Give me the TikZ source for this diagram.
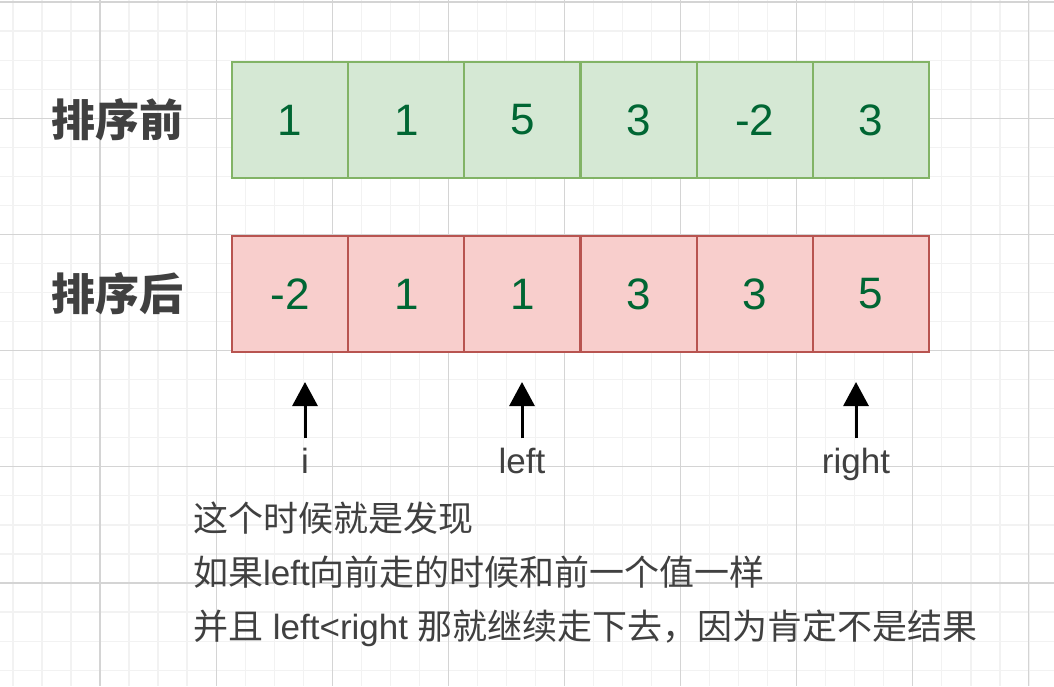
\documentclass[tikz,border=0pt]{standalone}
\usepackage{fontspec}
\setmainfont{Liberation Sans}
\newfontfamily\cjk{Noto Sans CJK SC}
\usepackage{xcolor}
\usetikzlibrary{arrows.meta}

\definecolor{gridminor}{HTML}{F2F2F2}
\definecolor{gridmajor}{HTML}{D4D4D4}
\definecolor{greenfill}{HTML}{D5E8D4}
\definecolor{greenline}{HTML}{82B366}
\definecolor{redfill}{HTML}{F8CECC}
\definecolor{redline}{HTML}{B85450}
\definecolor{numcolor}{HTML}{006633}
\definecolor{textgray}{HTML}{404040}

\begin{document}
\begin{tikzpicture}[
    x=1pt, y=-1pt,
    minorgrid/.style={draw=gridminor, line width=1.2pt},
    majorgrid/.style={draw=gridmajor, line width=1.2pt},
    cell/.style={rectangle, draw, line width=2.2pt, minimum width=116.2pt, minimum height=116pt, inner sep=0pt, text=numcolor, font=\fontsize{44}{50}\selectfont},
    before/.style={cell, fill=greenfill, draw=greenline},
    after/.style={cell, fill=redfill, draw=redline},
    rowlabel/.style={font=\cjk\bfseries\fontsize{44}{50}\selectfont, text=textgray},
    pointer/.style={font=\fontsize{35}{40}\selectfont, text=textgray, inner sep=0pt, anchor=base},
    note/.style={font=\fontsize{35}{40}\selectfont, text=textgray, anchor=west, inner sep=0pt},
    arrow/.style={-{Triangle[width=25pt,length=24pt]}, line width=3pt, shorten <=9pt},
]
\useasboundingbox (0,0) rectangle (1054,686);
\fill[white] (0,0) rectangle (1054,686);

% Background grid
\foreach \gx in {0,...,35} \draw[minorgrid] ({12.9+29.03*\gx},0) -- ++(0,686);
\foreach \gy in {0,...,23} \draw[minorgrid] (0,{2+29.05*\gy}) -- ++(1054,0);
\foreach \gx in {0,...,8} \draw[majorgrid] ({100+116.1*\gx},0) -- ++(0,686);
\foreach \gy in {0,...,5} \draw[majorgrid] (0,{2+116.2*\gy}) -- ++(1054,0);

% Row labels
\node[rowlabel] (lbefore) at (117, 120) {排序前};
\node[rowlabel] (lafter) at (117, 294) {排序后};

% Before sorting
\node[before] (b1) at (290.1, 120) {1};
\node[before] (b2) at (406.3, 120) {1};
\node[before] (b3) at (522.4, 120) {5};
\node[before] (b4) at (638.6, 120) {3};
\node[before] (b5) at (754.8, 120) {-2};
\node[before] (b6) at (870.9, 120) {3};

% After sorting
\node[after] (a1) at (290.1, 294) {-2};
\node[after] (a2) at (406.3, 294) {1};
\node[after] (a3) at (522.4, 294) {1};
\node[after] (a4) at (638.6, 294) {3};
\node[after] (a5) at (754.8, 294) {3};
\node[after] (a6) at (870.9, 294) {5};

% Pointers
\node[pointer] (pi) at (305, 473) {i};
\node[pointer] (pleft) at (522, 473) {left};
\node[pointer] (pright) at (856, 473) {right};
\coordinate (ti) at (305, 382);
\coordinate (tleft) at (522, 382);
\coordinate (tright) at (856, 382);

\draw[arrow] (pi.north) -- (ti);
\draw[arrow] (pleft.north) -- (tleft);
\draw[arrow] (pright.north) -- (tright);

% Notes
\node[note] (n1) at (193, 518) {\cjk 这个时候就是发现};
\node[note] (n2) at (193, 572) {{\cjk 如果}left{\cjk 向前走的时候和前一个值一样}};
\node[note] (n3) at (193, 628) {{\cjk 并且} left<right {\cjk 那就继续走下去，因为肯定不是结果}};

\end{tikzpicture}
\end{document}
